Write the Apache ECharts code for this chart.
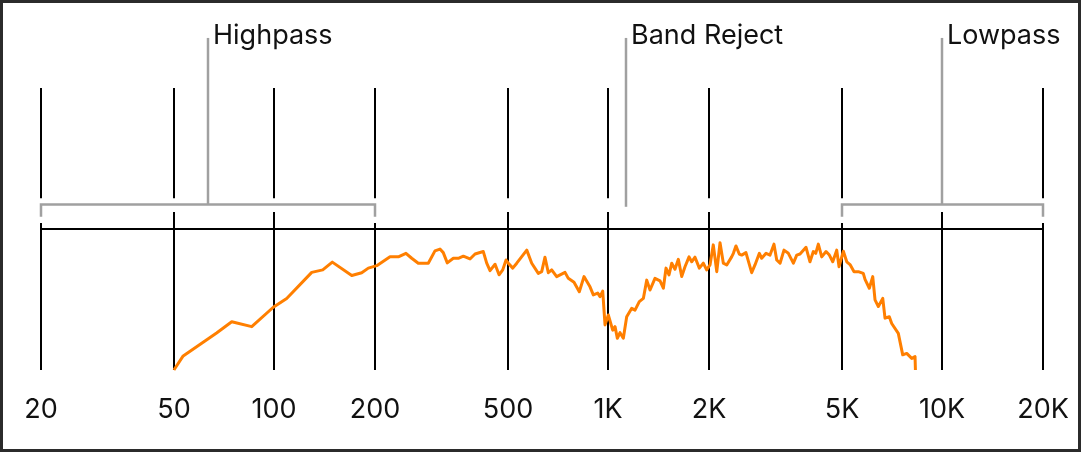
<!DOCTYPE html>
<html>
<head>
<meta charset="utf-8">
<script src="https://cdn.jsdelivr.net/npm/echarts@6/dist/echarts.min.js"></script>
<style>
  html, body { margin: 0; padding: 0; background: #fff; }
  #chart { width: 1082px; height: 452px; }
</style>
</head>
<body>
<div id="chart"></div>
<script>
// ---- data ----
const ticks = [20, 50, 100, 200, 500, 1000, 2000, 5000, 10000, 20000];
const tickLabels = ['20', '50', '100', '200', '500', '1K', '2K', '5K', '10K', '20K'];

const bandNames = ['Highpass', 'Band Reject', 'Lowpass'];
const bandFrom  = [20, null, 5000];
const bandTo    = [200, null, 20000];
const bandStem  = [63.2, 1130, 10000];

const freqs = [50, 53.3, 67.1, 74.5, 85.5, 99.2, 108.8, 129.3, 139.5, 149, 170.4, 182.5, 191, 202.4, 221.8, 234.9, 247.6, 257.6, 269.5, 288.8,
  302.4, 313, 320.2, 329.2, 343.2, 355.2, 367.7, 385, 398.6, 422, 432, 442, 457.6, 470.4, 482.4, 493.6, 501.4, 517, 531.4, 569.4,
  589.2, 616.6, 631.2, 645.6, 660.6, 676.2, 699.8, 741.2, 758.2, 788.6, 818, 844.8, 880.6, 901, 928.8, 943.6, 961.2, 976.6, 999, 1029.8,
  1046.4, 1063, 1083, 1108, 1134, 1174, 1201, 1237, 1272, 1302, 1332, 1378, 1427, 1460, 1487, 1518, 1547, 1582, 1619, 1657,
  1695, 1743, 1775, 1816, 1871, 1923, 1968, 2014, 2060, 2110, 2158, 2208, 2260, 2338, 2366, 2408, 2464, 2506, 2580, 2684,
  2746, 2830, 2876, 2964, 3046, 3130, 3190, 3264, 3354, 3456, 3578, 3662, 3746, 3904, 4012, 4106, 4174, 4250, 4350, 4482,
  4586, 4694, 4824, 4902, 5050, 5170, 5288, 5436, 5598, 5794, 5864, 6040, 6184, 6282, 6428, 6626, 6730, 6932, 7048, 7376,
  7604, 7816, 8092, 8278, 8300];
const levels = [-40, -36.0, -29.5, -26.3, -27.7, -22.2, -19.7, -12.3, -11.6, -9.4, -13.2, -12.4, -11.1, -10.4, -7.9, -7.9, -6.9, -8.3, -9.7, -9.7,
  -6.2, -5.7, -6.7, -9.6, -8.3, -8.3, -7.7, -8.5, -7.1, -6.4, -9.7, -11.8, -10.0, -13.0, -11.6, -8.8, -9.7, -11.1, -9.7, -6.0,
  -9.7, -12.6, -12.1, -8.0, -12.4, -11.6, -13.5, -12.3, -14.0, -15.1, -17.8, -13.5, -16.4, -18.7, -18.2, -19.2, -17.6, -27.2, -24.4, -28.7,
  -27.7, -31.0, -29.4, -31.0, -24.9, -22.5, -23.0, -20.6, -19.7, -14.5, -17.3, -14.0, -14.7, -16.8, -11.1, -13.0, -9.7, -11.4, -8.6, -13.5,
  -10.7, -7.9, -9.3, -8.0, -11.1, -9.7, -11.6, -10.2, -4.5, -12.1, -3.9, -9.7, -10.2, -7.9, -6.9, -4.8, -7.1, -7.4, -6.7, -12.4,
  -10.2, -6.9, -8.3, -6.9, -7.4, -4.3, -8.8, -9.7, -6.0, -6.9, -9.7, -7.4, -7.1, -5.2, -9.3, -6.4, -6.9, -4.3, -7.9, -6.4,
  -7.4, -9.3, -6.0, -10.7, -6.3, -9.3, -10.1, -12.1, -12.1, -12.6, -14.3, -16.8, -13.5, -20.1, -22.0, -19.7, -25.3, -24.9, -26.8, -29.6,
  -35.7, -35.3, -36.7, -36.2, -40];

// ---- layout constants (in axis units, dB) ----
const Y_MIN = -40, Y_MAX = 40;
const UPPER_END = 8.7;      // end of upper tick segment
const LOWER_START = 4.8;    // start of lower tick segment
const END_START = 1.7;      // lower segment start under bracket ends
const BRACKET_Y = 6.95;
const BRACKET_END = 3.5;
const STEM_TOP = 54.2;
const STEM_FREE_END = 6.3;

const FONT = 'Inter, "Noto Sans", sans-serif';
const FONT_SIZE = 27;
const BLACK = '#000';
const GREY = '#a0a0a0';

const chart = echarts.init(document.getElementById('chart'), null, { renderer: 'canvas' });

const endpoints = new Set();
bandFrom.forEach(v => { if (v != null) endpoints.add(v); });
bandTo.forEach(v => { if (v != null) endpoints.add(v); });

const option = {
  animation: false,
  backgroundColor: '#fff',
  grid: { left: 41, right: 39, top: 88, bottom: 82 },
  xAxis: { type: 'log', logBase: 10, min: 20, max: 20000, show: false },
  yAxis: { type: 'value', min: Y_MIN, max: Y_MAX, show: false },
  graphic: [{
    type: 'rect',
    shape: { x: 1.5, y: 1.5, width: 1078, height: 449 },
    style: { fill: 'none', stroke: '#2b2b2b', lineWidth: 3 },
    silent: true
  }],
  series: [
    {
      type: 'custom',
      name: 'ticks',
      silent: true,
      z: 1,
      data: ticks.map(t => [t, 0]),
      renderItem: function (params, api) {
        const f = api.value(0);
        const i = params.dataIndex;
        const pTop = api.coord([f, Y_MAX]);
        const pUpEnd = api.coord([f, UPPER_END]);
        const pLowStart = api.coord([f, endpoints.has(f) ? END_START : LOWER_START]);
        const pBot = api.coord([f, Y_MIN]);
        const x = Math.round(pTop[0]);
        return {
          type: 'group',
          children: [
            { type: 'line', shape: { x1: x, y1: pTop[1], x2: x, y2: pUpEnd[1] }, style: { stroke: BLACK, lineWidth: 2 } },
            { type: 'line', shape: { x1: x, y1: pLowStart[1], x2: x, y2: pBot[1] }, style: { stroke: BLACK, lineWidth: 2 } },
            { type: 'text', style: { text: tickLabels[i], x: x, y: pBot[1] + 40, align: 'center', verticalAlign: 'middle', fontSize: FONT_SIZE, fontFamily: FONT, fill: '#111' } }
          ]
        };
      }
    },
    {
      type: 'custom',
      name: 'baseline',
      silent: true,
      z: 1,
      data: [[20, 0, 20000]],
      renderItem: function (params, api) {
        const a = api.coord([api.value(0), api.value(1)]);
        const b = api.coord([api.value(2), api.value(1)]);
        return { type: 'line', shape: { x1: a[0] - 1, y1: a[1], x2: b[0] + 1, y2: b[1] }, style: { stroke: BLACK, lineWidth: 2 } };
      }
    },
    {
      type: 'custom',
      name: 'bands',
      silent: true,
      z: 2,
      data: bandStem.map((s, i) => [s, 0, i]),
      renderItem: function (params, api) {
        const i = params.dataIndex;
        const s = bandStem[i];
        const hasBracket = bandFrom[i] != null;
        const top = api.coord([s, STEM_TOP]);
        const stemBot = api.coord([s, hasBracket ? BRACKET_Y : STEM_FREE_END]);
        const sx = Math.round(top[0]);
        const children = [
          { type: 'line', shape: { x1: sx, y1: top[1], x2: sx, y2: stemBot[1] }, style: { stroke: GREY, lineWidth: 2.5 } },
          { type: 'text', style: { text: bandNames[i], x: sx + 5, y: top[1] - 2, align: 'left', verticalAlign: 'middle', fontSize: FONT_SIZE, fontFamily: FONT, fill: '#111' } }
        ];
        if (hasBracket) {
          const a = api.coord([bandFrom[i], BRACKET_Y]);
          const b = api.coord([bandTo[i], BRACKET_Y]);
          const aEnd = api.coord([bandFrom[i], BRACKET_END]);
          const ax = Math.round(a[0]), bx = Math.round(b[0]);
          children.push({
            type: 'polyline',
            shape: { points: [[ax, aEnd[1]], [ax, a[1]], [bx, b[1]], [bx, aEnd[1]]] },
            style: { stroke: GREY, lineWidth: 2.5, fill: 'none', lineJoin: 'miter' }
          });
        }
        return { type: 'group', children: children };
      }
    },
    {
      type: 'line',
      name: 'response',
      z: 3,
      showSymbol: false,
      symbol: 'none',
      silent: true,
      lineStyle: { color: '#ff7f00', width: 3, join: 'round' },
      data: freqs.map((f, i) => [f, levels[i]])
    }
  ]
};

chart.setOption(option);
</script>
</body>
</html>
